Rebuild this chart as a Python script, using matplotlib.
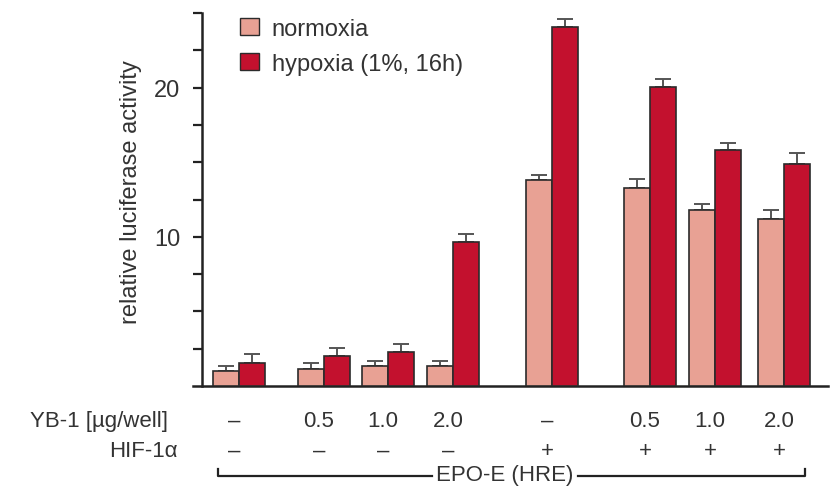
import matplotlib
matplotlib.use('Agg')
import matplotlib.pyplot as plt
from matplotlib.lines import Line2D
from matplotlib.patches import Patch
import numpy as np

# values
yb1_labels = ['–', '0.5', '1.0', '2.0', '–', '0.5', '1.0', '2.0']
hif_labels = ['–', '–', '–', '–', '+', '+', '+', '+']
normoxia = [1.03, 1.12, 1.32, 1.36, 13.8, 13.29, 11.81, 11.21]
normoxia_err = [0.33, 0.40, 0.36, 0.34, 0.31, 0.60, 0.38, 0.56]
hypoxia = [1.52, 1.99, 2.30, 9.66, 24.07, 20.02, 15.79, 14.88]
hypoxia_err = [0.60, 0.58, 0.52, 0.54, 0.56, 0.54, 0.52, 0.71]
series_names = ['normoxia', 'hypoxia (1%, 16h)']

# layout (x in pixel-like units of the canvas)
group_x = np.array([239, 324, 388, 453, 552, 650, 715, 784])
bar_w = 26
W, H = 830, 489
text_col = '#333333'
col_norm = '#E8A194'
col_hyp = '#C3112E'
edge_col = '#2b2b2b'
row_size = 16

plt.rcParams['font.family'] = ['Liberation Sans', 'DejaVu Sans']


def fx(x):
    return x / W


def fy(y):
    return 1 - y / H


fig = plt.figure(figsize=(8.3, 4.89), dpi=100)
ax = fig.add_axes([fx(193), fy(387), fx(828 - 193), (387 - 14) / H])
ax.set_xlim(193, 828)
ax.set_ylim(0, 25)

zeros = np.zeros(len(normoxia))
ax.bar(group_x - bar_w / 2, normoxia, width=bar_w, color=col_norm,
       edgecolor=edge_col, linewidth=1.2, zorder=3)
ax.bar(group_x + bar_w / 2, hypoxia, width=bar_w, color=col_hyp,
       edgecolor=edge_col, linewidth=1.2, zorder=3)
ax.errorbar(group_x - bar_w / 2, normoxia, yerr=[zeros, normoxia_err],
            fmt='none', ecolor='#555555', elinewidth=1.4, capsize=6,
            capthick=1.4, zorder=2)
ax.errorbar(group_x + bar_w / 2, hypoxia, yerr=[zeros, hypoxia_err],
            fmt='none', ecolor='#555555', elinewidth=1.4, capsize=6,
            capthick=1.4, zorder=2)

# axes styling
for s in ['top', 'right']:
    ax.spines[s].set_visible(False)
ax.spines['left'].set_position(('data', 202))
ax.spines['left'].set_linewidth(1.8)
ax.spines['bottom'].set_linewidth(1.8)
ax.spines['left'].set_color('#222222')
ax.spines['bottom'].set_color('#222222')
yt = np.arange(2.5, 25.01, 2.5)
ax.set_yticks(yt)
ax.set_yticklabels([str(int(t)) if t in (10, 20) else '' for t in yt])
ax.tick_params(axis='y', direction='out', length=6.5, width=1.6, color='#222222',
               labelsize=17, labelcolor=text_col, pad=9)
ax.set_xticks([])

fig.text(fx(131), fy(192), 'relative luciferase activity', rotation=90,
         ha='center', va='center', fontsize=17, color=text_col)

# legend
handles = [Patch(facecolor=col_norm, edgecolor=edge_col, linewidth=1.0),
           Patch(facecolor=col_hyp, edgecolor=edge_col, linewidth=1.0)]
ax.legend(handles, series_names, loc='upper left',
          bbox_to_anchor=(fx(240), fy(19)), bbox_transform=fig.transFigure,
          frameon=False, fontsize=17, handlelength=0.8, handleheight=0.75,
          handletextpad=0.55, labelspacing=0.55, borderpad=0, borderaxespad=0,
          labelcolor=text_col)

# condition rows under the axis
fig.text(fx(168), fy(427), 'YB-1 [µg/well]', ha='right', va='baseline',
         fontsize=row_size, color=text_col)
fig.text(fx(178), fy(457), 'HIF-1α', ha='right', va='baseline',
         fontsize=row_size, color=text_col)
for gx, a, b in zip(group_x, yb1_labels, hif_labels):
    fig.text(fx(gx - 5), fy(427), a, ha='center', va='baseline',
             fontsize=row_size, color=text_col)
    fig.text(fx(gx - 5), fy(457), b, ha='center', va='baseline',
             fontsize=row_size, color=text_col)

# bracket EPO-E (HRE)
x0 = group_x[0] - bar_w + 5
x1 = group_x[-1] + bar_w - 5
yb = 477
lw = 1.6
fig.add_artist(Line2D([fx(x0), fx(x0), fx(432)], [fy(470), fy(yb), fy(yb)],
                      transform=fig.transFigure, color='#222222', lw=lw))
fig.add_artist(Line2D([fx(578), fx(x1), fx(x1)], [fy(yb), fy(yb), fy(470)],
                      transform=fig.transFigure, color='#222222', lw=lw))
fig.text(fx(505), fy(481), 'EPO-E (HRE)', ha='center', va='baseline',
         fontsize=row_size, color=text_col)

fig.savefig('out.png', dpi=100)
